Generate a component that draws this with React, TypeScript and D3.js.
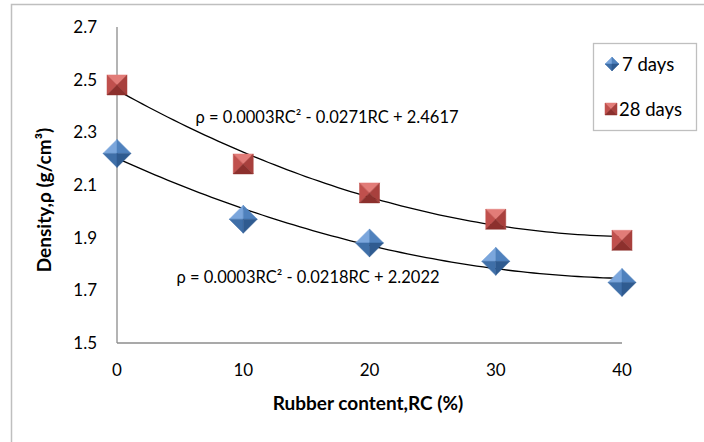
import React, {useRef, useEffect} from 'react';
import * as d3 from 'd3';

const width = 704;
const height = 442;

const rubberContent = [0, 10, 20, 30, 40];
const density7 = [2.22, 1.97, 1.88, 1.81, 1.73];
const density28 = [2.48, 2.18, 2.07, 1.97, 1.89];
const yTicks = [1.5, 1.7, 1.9, 2.1, 2.3, 2.5, 2.7];
const xTicks = [0, 10, 20, 30, 40];
const seriesNames = ['7 days', '28 days'];
const equations = ['ρ = 0.0003RC² - 0.0218RC + 2.2022', 'ρ = 0.0003RC² - 0.0271RC + 2.4617'];

const font = 'Lato, Calibri, sans-serif';
const blue = ['#7ba6dc', '#4f81bd', '#3f6fa8', '#2f5b90'];
const red = ['#e27c78', '#c0504d', '#a8403d', '#8c302d'];

// least squares quadratic, returns [a, b, c] for a*x^2 + b*x + c
const quadFit = (xs: number[], ys: number[]) => {
  const n = xs.length;
  let s = [0, 0, 0, 0, 0];
  let t = [0, 0, 0];
  for (let i = 0; i < n; i++) {
    const x = xs[i];
    for (let k = 0; k < 5; k++) s[k] += Math.pow(x, k);
    for (let k = 0; k < 3; k++) t[k] += ys[i] * Math.pow(x, k);
  }
  const m = [
    [s[4], s[3], s[2], t[2]],
    [s[3], s[2], s[1], t[1]],
    [s[2], s[1], s[0], t[0]],
  ];
  for (let i = 0; i < 3; i++) {
    for (let j = i + 1; j < 3; j++) {
      const f = m[j][i] / m[i][i];
      for (let k = i; k < 4; k++) m[j][k] -= f * m[i][k];
    }
  }
  const r = [0, 0, 0];
  for (let i = 2; i >= 0; i--) {
    let v = m[i][3];
    for (let k = i + 1; k < 3; k++) v -= m[i][k] * r[k];
    r[i] = v / m[i][i];
  }
  return r;
};

const facets = (g, cx, cy, pts, c) => {
  pts.forEach(([p1, p2], i) => {
    g.append('path')
      .attr('d', `M${cx},${cy}L${p1[0]},${p1[1]}L${p2[0]},${p2[1]}Z`)
      .attr('fill', c[i])
      .attr('stroke', c[i])
      .attr('stroke-width', 0.5);
  });
};

const diamond = (g, cx, cy, r, c) =>
  facets(g, cx, cy, [
    [[cx, cy - r], [cx - r, cy]],
    [[cx, cy - r], [cx + r, cy]],
    [[cx, cy + r], [cx - r, cy]],
    [[cx, cy + r], [cx + r, cy]],
  ], c);

const square = (g, cx, cy, r, c) =>
  facets(g, cx, cy, [
    [[cx - r, cy - r], [cx + r, cy - r]],
    [[cx - r, cy - r], [cx - r, cy + r]],
    [[cx + r, cy - r], [cx + r, cy + r]],
    [[cx - r, cy + r], [cx + r, cy + r]],
  ], c);

const draw = (container: SVGSVGElement) => {
  const svg = d3.select(container);
  svg.selectAll('*').remove();

  const x = d3.scaleLinear().domain([0, 40]).range([117, 622]);
  const y = d3.scaleLinear().domain([1.5, 2.7]).range([343, 27]);

  // outer chart border
  svg.append('rect')
    .attr('x', 11.5).attr('y', 4.5)
    .attr('width', width).attr('height', height)
    .attr('fill', 'white').attr('stroke', '#bfbfbf').attr('stroke-width', 1.5);

  // axes
  svg.append('line')
    .attr('x1', x(0)).attr('x2', x(0)).attr('y1', y(2.7)).attr('y2', y(1.5))
    .attr('stroke', '#8c8c8c').attr('stroke-width', 1.3);
  svg.append('line')
    .attr('x1', x(0)).attr('x2', x(40)).attr('y1', y(1.5)).attr('y2', y(1.5))
    .attr('stroke', '#8c8c8c').attr('stroke-width', 1.3);

  svg.append('g').selectAll('text').data(yTicks).enter().append('text')
    .attr('x', 97).attr('y', d => y(d)).attr('dy', '0.36em')
    .attr('text-anchor', 'end')
    .style('font', `17px ${font}`).attr('fill', '#000')
    .text(d => d3.format('.1f')(d));

  svg.append('g').selectAll('text').data(xTicks).enter().append('text')
    .attr('x', d => x(d)).attr('y', 370).attr('dy', '0.36em')
    .attr('text-anchor', 'middle')
    .style('font', `17px ${font}`).attr('fill', '#000')
    .text(d => d);

  // axis titles
  svg.append('text')
    .attr('transform', `translate(44, 200) rotate(-90)`)
    .attr('text-anchor', 'middle').attr('dy', '0.36em')
    .style('font', `bold 19px ${font}`)
    .text('Density,ρ (g/cm³)');
  svg.append('text')
    .attr('x', 368).attr('y', 403).attr('dy', '0.36em')
    .attr('text-anchor', 'middle')
    .style('font', `bold 19px ${font}`)
    .text('Rubber content,RC (%)');

  // trend lines
  const line = d3.line<number[]>().x(d => x(d[0])).y(d => y(d[1]));
  const xs = d3.range(0, 40.01, 0.5);
  [density7, density28].forEach(vals => {
    const [a, b, c] = quadFit(rubberContent, vals);
    svg.append('path')
      .attr('d', line(xs.map(v => [v, a * v * v + b * v + c])))
      .attr('fill', 'none').attr('stroke', '#000').attr('stroke-width', 1.3);
  });

  // markers
  const marks = svg.append('g');
  rubberContent.forEach((rc, i) => {
    diamond(marks, x(rc), y(density7[i]), 14, blue);
    square(marks, x(rc), y(density28[i]), 10, red);
  });

  // equations
  svg.append('text')
    .attr('x', 327).attr('y', 117).attr('dy', '0.36em').attr('text-anchor', 'middle')
    .style('font', `16.5px ${font}`).text(equations[1]);
  svg.append('text')
    .attr('x', 308).attr('y', 277).attr('dy', '0.36em').attr('text-anchor', 'middle')
    .style('font', `16.5px ${font}`).text(equations[0]);

  // legend
  const lg = svg.append('g');
  lg.append('rect')
    .attr('x', 593.5).attr('y', 43.5).attr('width', 103).attr('height', 87)
    .attr('fill', 'white').attr('stroke', '#bfbfbf').attr('stroke-width', 1.3);
  diamond(lg, 612, 64, 7, blue);
  square(lg, 611, 109, 6, red);
  lg.append('text').attr('x', 622).attr('y', 64).attr('dy', '0.36em')
    .style('font', `18.5px ${font}`).text(seriesNames[0]);
  lg.append('text').attr('x', 619).attr('y', 109).attr('dy', '0.36em')
    .style('font', `18.5px ${font}`).text(seriesNames[1]);
};

export default function App() {
  const ref = useRef<SVGSVGElement>(null);
  useEffect(() => {
    if (ref.current) draw(ref.current);
  }, []);
  return (
    <svg
      ref={ref}
      width={width}
      height={height}
      style={{position: 'absolute', left: 0, top: 0, background: 'white'}}
    />
  );
}
